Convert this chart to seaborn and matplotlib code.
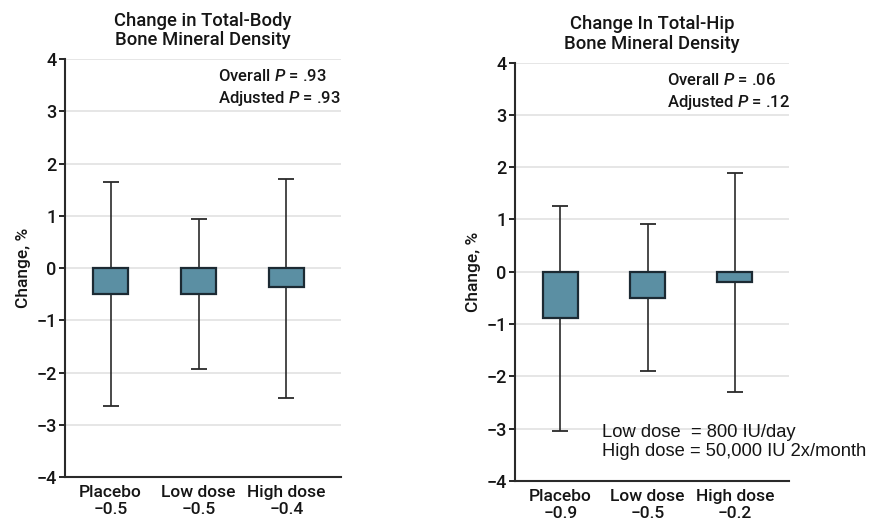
import matplotlib
matplotlib.use('Agg')
import matplotlib.pyplot as plt
import seaborn as sns
import numpy as np

# data
groups = ['Placebo', 'Low dose', 'High dose']

body_median = [-0.5, -0.5, -0.37]
body_low = [-2.65, -1.93, -2.48]
body_high = [1.65, 0.93, 1.70]
body_labels = ['\u22120.5', '\u22120.5', '\u22120.4']

hip_median = [-0.89, -0.50, -0.19]
hip_low = [-3.05, -1.90, -2.29]
hip_high = [1.25, 0.92, 1.88]
hip_labels = ['\u22120.9', '\u22120.5', '\u22120.2']

yticks = [-4, -3, -2, -1, 0, 1, 2, 3, 4]

sns.set_style('white')
plt.rcParams['font.family'] = ['Roboto', 'DejaVu Sans']
plt.rcParams['font.weight'] = 'medium'
plt.rcParams['axes.titleweight'] = 'medium'
plt.rcParams['axes.labelweight'] = 'medium'
plt.rcParams['mathtext.fontset'] = 'custom'
plt.rcParams['mathtext.it'] = 'Roboto:italic:medium'
plt.rcParams['mathtext.rm'] = 'Roboto:medium'
plt.rcParams['axes.unicode_minus'] = True

bar_color = '#5b8fa3'
edge_color = '#1c2a33'
line_color = '#2a2a2a'
text_color = '#151515'
W = 'medium'

fig = plt.figure(figsize=(8.72, 5.31), dpi=100)
ax1 = fig.add_axes([0.0745, 0.1017, 0.3165, 0.787])
ax2 = fig.add_axes([0.5906, 0.0942, 0.3142, 0.788])


def panel(ax, med, lo, hi, labels, title, p1, p2):
    sns.barplot(x=groups, y=med, color=bar_color, edgecolor=edge_color,
                linewidth=1.6, width=0.4, saturation=1, ax=ax, zorder=2)
    xs = np.arange(len(groups))
    yerr = [[-v for v in lo], hi]
    ax.errorbar(xs, np.zeros(len(xs)), yerr=yerr, fmt='none', ecolor=line_color,
                elinewidth=1.2, capsize=5.5, capthick=1.3, zorder=1)
    ax.set_ylim(-4, 4)
    ax.set_xlim(-0.52, 2.62)
    ax.set_yticks(yticks)
    ax.set_yticklabels([str(t).replace('-', '\u2212') for t in yticks],
                       fontweight=W, fontsize=13)
    ax.set_xticks(xs)
    ax.set_xticklabels([g + '\n' + l for g, l in zip(groups, labels)],
                       linespacing=1.15, fontweight=W, fontsize=12.5)
    ax.tick_params(axis='x', length=0, pad=6, colors=text_color)
    ax.tick_params(axis='y', length=4, width=1.3, pad=2,
                   colors=text_color, direction='out', left=True)
    ax.yaxis.grid(True, color='#e2e2e2', linewidth=1.2)
    ax.set_axisbelow(True)
    for s in ['top', 'right']:
        ax.spines[s].set_visible(False)
    for s in ['left', 'bottom']:
        ax.spines[s].set_color(line_color)
        ax.spines[s].set_linewidth(1.5)
    ax.set_ylabel('Change, %', fontsize=12.5, labelpad=4, color=text_color,
                  fontweight=W)
    ax.set_xlabel('')
    ax.set_title(title, fontsize=13.3, pad=10, linespacing=1.1, color=text_color,
                 fontweight=W)
    ax.text(0.555, 0.978, 'Overall $\\it{P}$ = ' + p1 + '\nAdjusted $\\it{P}$ = ' + p2,
            transform=ax.transAxes, ha='left', va='top', fontsize=12,
            linespacing=1.35, color=text_color, fontweight=W)


panel(ax1, body_median, body_low, body_high, body_labels,
      'Change in Total-Body\nBone Mineral Density', '.93', '.93')
panel(ax2, hip_median, hip_low, hip_high, hip_labels,
      'Change In Total-Hip\nBone Mineral Density', '.06', '.12')

ax2.text(0.318, 0.093, 'Low dose  = 800 IU/day\nHigh dose = 50,000 IU 2x/month',
         transform=ax2.transAxes, ha='left', va='center', fontsize=13.2,
         family=['Liberation Sans', 'DejaVu Sans'], weight='normal',
         linespacing=1.2, color=text_color)

fig.savefig('out.png', dpi=100)
